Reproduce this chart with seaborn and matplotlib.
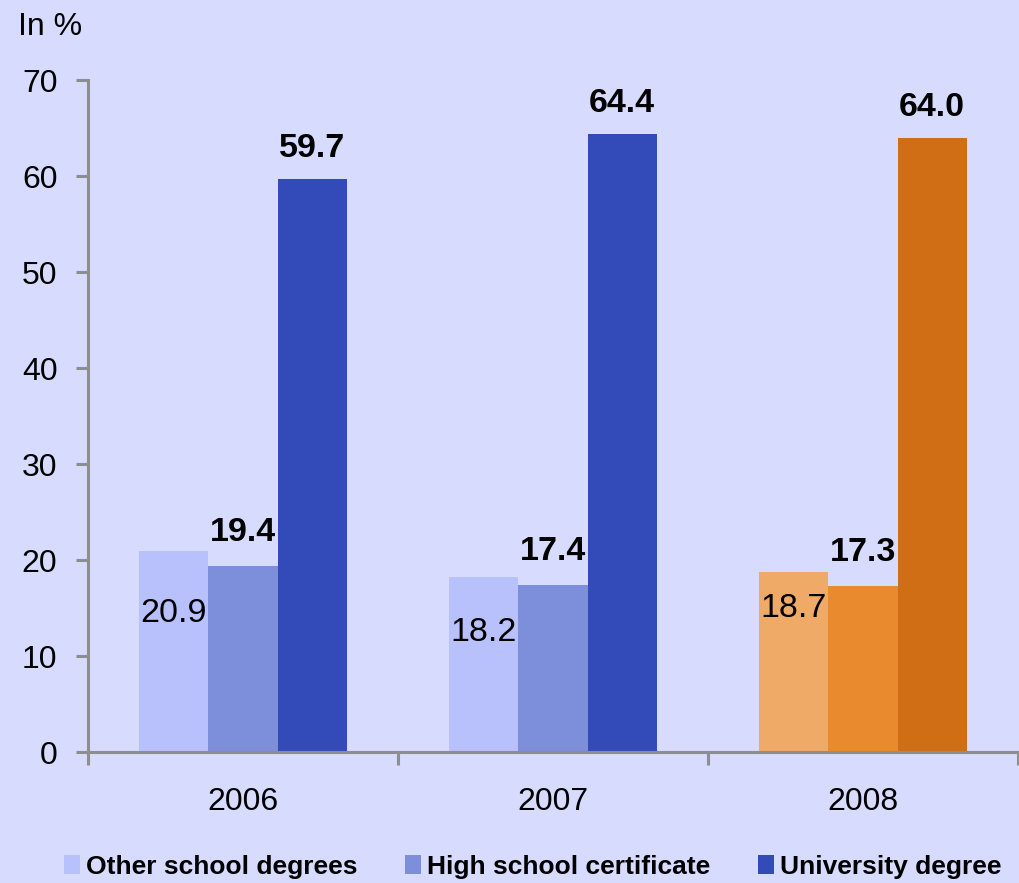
import matplotlib
matplotlib.use("Agg")
import matplotlib.pyplot as plt
from matplotlib.patches import Patch
import pandas as pd
import seaborn as sns

# ---- data -------------------------------------------------------------
years = ["2006", "2007", "2008"]
degrees = ["Other school degrees", "High school certificate", "University degree"]
other_school = [20.9, 18.2, 18.7]
high_school = [19.4, 17.4, 17.3]
university = [59.7, 64.4, 64.0]
y_ticks = [0, 10, 20, 30, 40, 50, 60, 70]

# ---- styling ----------------------------------------------------------
BG = "#D7DBFE"
AXIS_GREY = "#8E8E8E"
blue_shades = ["#B8C1FC", "#7D8EDB", "#334BB8"]
orange_shades = ["#F0AA68", "#EA8A2E", "#D06E16"]
year_shades = [blue_shades, blue_shades, orange_shades]
inside_offset_px = [-62, -55, -36]   # vertical offset of in-bar labels
above_offset_px = [33, 30]           # offsets for the two outside label rows

sns.set_theme(style="white")
plt.rcParams["font.family"] = ["Liberation Sans", "DejaVu Sans"]
plt.rcParams["text.color"] = "black"
plt.rcParams["xtick.color"] = "black"
plt.rcParams["ytick.color"] = "black"

df = pd.DataFrame({
    "year": years * 3,
    "degree": [d for d in degrees for _ in years],
    "share": other_school + high_school + university,
})

fig = plt.figure(figsize=(10.2, 8.83), dpi=100, facecolor=BG)
ax = fig.add_axes([88 / 1020, 1 - 752 / 883, 930 / 1020, (752 - 80) / 883])
ax.set_facecolor(BG)

sns.barplot(data=df, x="year", y="share", hue="degree", order=years,
            hue_order=degrees, palette=blue_shades, saturation=1,
            width=0.67, linewidth=0, legend=False, ax=ax)

# recolour bars per year and add value labels
px2pt = 72 / 100
for i, cont in enumerate(ax.containers):
    for j, bar in enumerate(cont):
        bar.set_facecolor(year_shades[j][i])
        bar.set_edgecolor("none")
        val = bar.get_height()
        cx = bar.get_x() + bar.get_width() / 2
        if i == 0:
            ax.annotate(f"{val:.1f}", (cx, val),
                        xytext=(0, inside_offset_px[j] * px2pt),
                        textcoords="offset points", ha="center", va="center",
                        fontsize=24.5, color="black")
        else:
            ax.annotate(f"{val:.1f}", (cx, val),
                        xytext=(0, above_offset_px[i - 1] * px2pt),
                        textcoords="offset points", ha="center", va="center",
                        fontsize=24.5, fontweight="bold", color="black")

# axes
ax.set_xlim(-0.5, 2.5)
ax.set_ylim(0, 70)
ax.set_yticks(y_ticks)
ax.set_yticklabels([str(t) for t in y_ticks])
ax.set_xlabel("")
ax.set_ylabel("")

for side in ["top", "right"]:
    ax.spines[side].set_visible(False)
for side in ["left", "bottom"]:
    ax.spines[side].set_color(AXIS_GREY)
    ax.spines[side].set_linewidth(2.2)

ax.tick_params(axis="y", which="major", direction="out", length=9,
               width=2.2, color=AXIS_GREY, labelcolor="black", pad=13,
               labelsize=23, left=True)
ax.set_xticks(range(len(years)))
ax.set_xticklabels(years)
ax.set_xticks([-0.5, 0.5, 1.5, 2.5], minor=True)
ax.tick_params(axis="x", which="major", length=0, pad=25, labelsize=23,
               labelcolor="black")
ax.tick_params(axis="x", which="minor", direction="out", length=9,
               width=2.2, color=AXIS_GREY, bottom=True)

fig.text(18 / 1020, 1 - 27 / 883, "In %", fontsize=23, ha="left",
         va="center", color="black")

handles = [Patch(facecolor=c, edgecolor="none") for c in blue_shades]
leg = fig.legend(handles, degrees, loc="center", ncol=3,
                 bbox_to_anchor=(0.522, 1 - 867 / 883), frameon=False,
                 handlelength=0.62, handleheight=0.72, handletextpad=0.22,
                 columnspacing=1.8, borderaxespad=0, borderpad=0,
                 prop={"size": 19.0, "weight": "bold"})
for t in leg.get_texts():
    t.set_color("black")

fig.savefig("out.png", dpi=100, facecolor=BG)
